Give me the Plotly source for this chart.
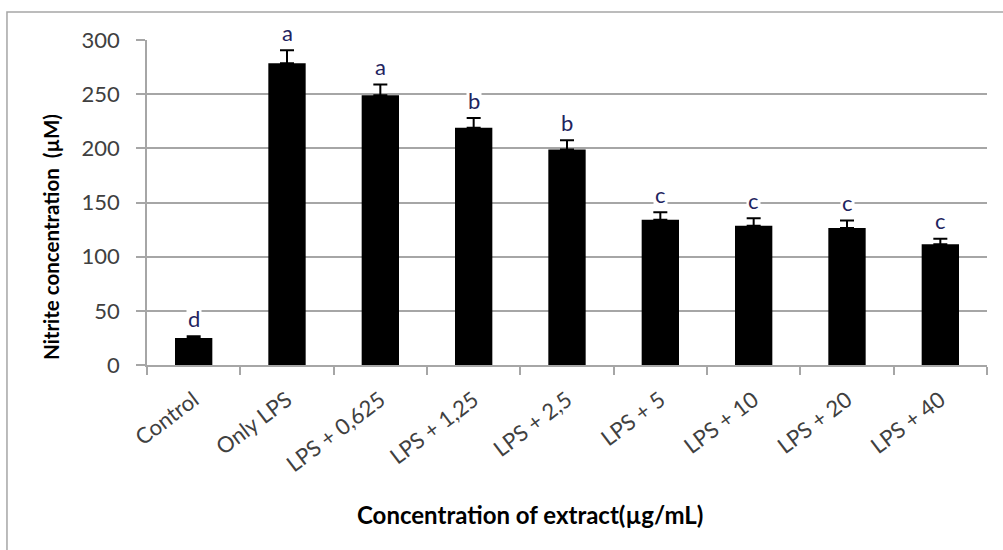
import plotly.graph_objects as go

# Nitrite production per treatment group
categories = ["Control", "Only LPS", "LPS + 0,625", "LPS + 1,25", "LPS + 2,5",
              "LPS + 5", "LPS + 10", "LPS + 20", "LPS + 40"]
nitrite = [25, 278.5, 249, 219, 199, 134, 128.5, 126.5, 111.5]
sd = [1.5, 12, 10, 9, 8.5, 7, 7, 7, 5]
letters = ["d", "a", "a", "b", "b", "c", "c", "c", "c"]
y_ticks = [0, 50, 100, 150, 200, 250, 300]

FONT = "Lato, 'Open Sans', sans-serif"
GRID = "#a6a6a6"
TEXT = "#404040"

fig = go.Figure()
fig.add_trace(go.Bar(
    x=categories,
    y=nitrite,
    marker=dict(color="black", line=dict(color="black", width=0)),
    error_y=dict(type="data", array=sd, symmetric=False,
                 arrayminus=[0] * len(sd), color="black",
                 thickness=2, width=7),
    width=0.4,
    showlegend=False,
))

# significance letters above each error bar
for cat, v, e, lab in zip(categories, nitrite, sd, letters):
    fig.add_annotation(
        x=cat, y=v + e, text=lab, showarrow=False,
        yanchor="middle", yshift=18,
        font=dict(family=FONT, size=22, color="#1f2460"),
        bgcolor="white", borderpad=1,
    )

# axis titles
fig.add_annotation(
    xref="paper", yref="paper", x=0.456, y=-0.46,
    text="<b>Concentration of extract(µg/mL)</b>", showarrow=False,
    xanchor="center", yanchor="middle",
    font=dict(family=FONT, size=24, color="black"),
)
fig.add_annotation(
    xref="paper", yref="paper", x=-0.115, y=0.395,
    text="<b>Nitrite concentration  (µM)</b>", showarrow=False,
    textangle=-90, xanchor="center", yanchor="middle",
    font=dict(family=FONT, size=20.5, color="black"),
)

# chart frame
fig.add_shape(
    type="rect", xref="paper", yref="paper",
    x0=-0.1667, x1=1.2, y0=-0.8, y1=1.086,
    line=dict(color=GRID, width=1.5), layer="below",
)

fig.update_layout(
    width=1003, height=550,
    margin=dict(l=147, r=16, t=40, b=185),
    paper_bgcolor="white", plot_bgcolor="white",
    font=dict(family=FONT, color=TEXT),
    bargap=0.6,
)
fig.update_xaxes(
    type="category",
    tickangle=-37,
    tickfont=dict(family=FONT, size=22, color=TEXT),
    showline=True, linecolor=GRID, linewidth=1.5,
    ticks="outside", tickson="boundaries", ticklen=8,
    tickcolor=GRID, tickwidth=1.5,
    showgrid=False,
    ticklabelstandoff=12,
)
fig.update_yaxes(
    range=[0, 300],
    tickvals=y_ticks,
    tickfont=dict(family=FONT, size=22, color=TEXT),
    showline=True, linecolor=GRID, linewidth=1.5,
    ticks="outside", ticklen=9, tickcolor=GRID, tickwidth=1.5,
    showgrid=True, gridcolor=GRID, gridwidth=1.5,
    zeroline=False,
    ticklabelstandoff=12,
)

fig.write_html("out.html")
